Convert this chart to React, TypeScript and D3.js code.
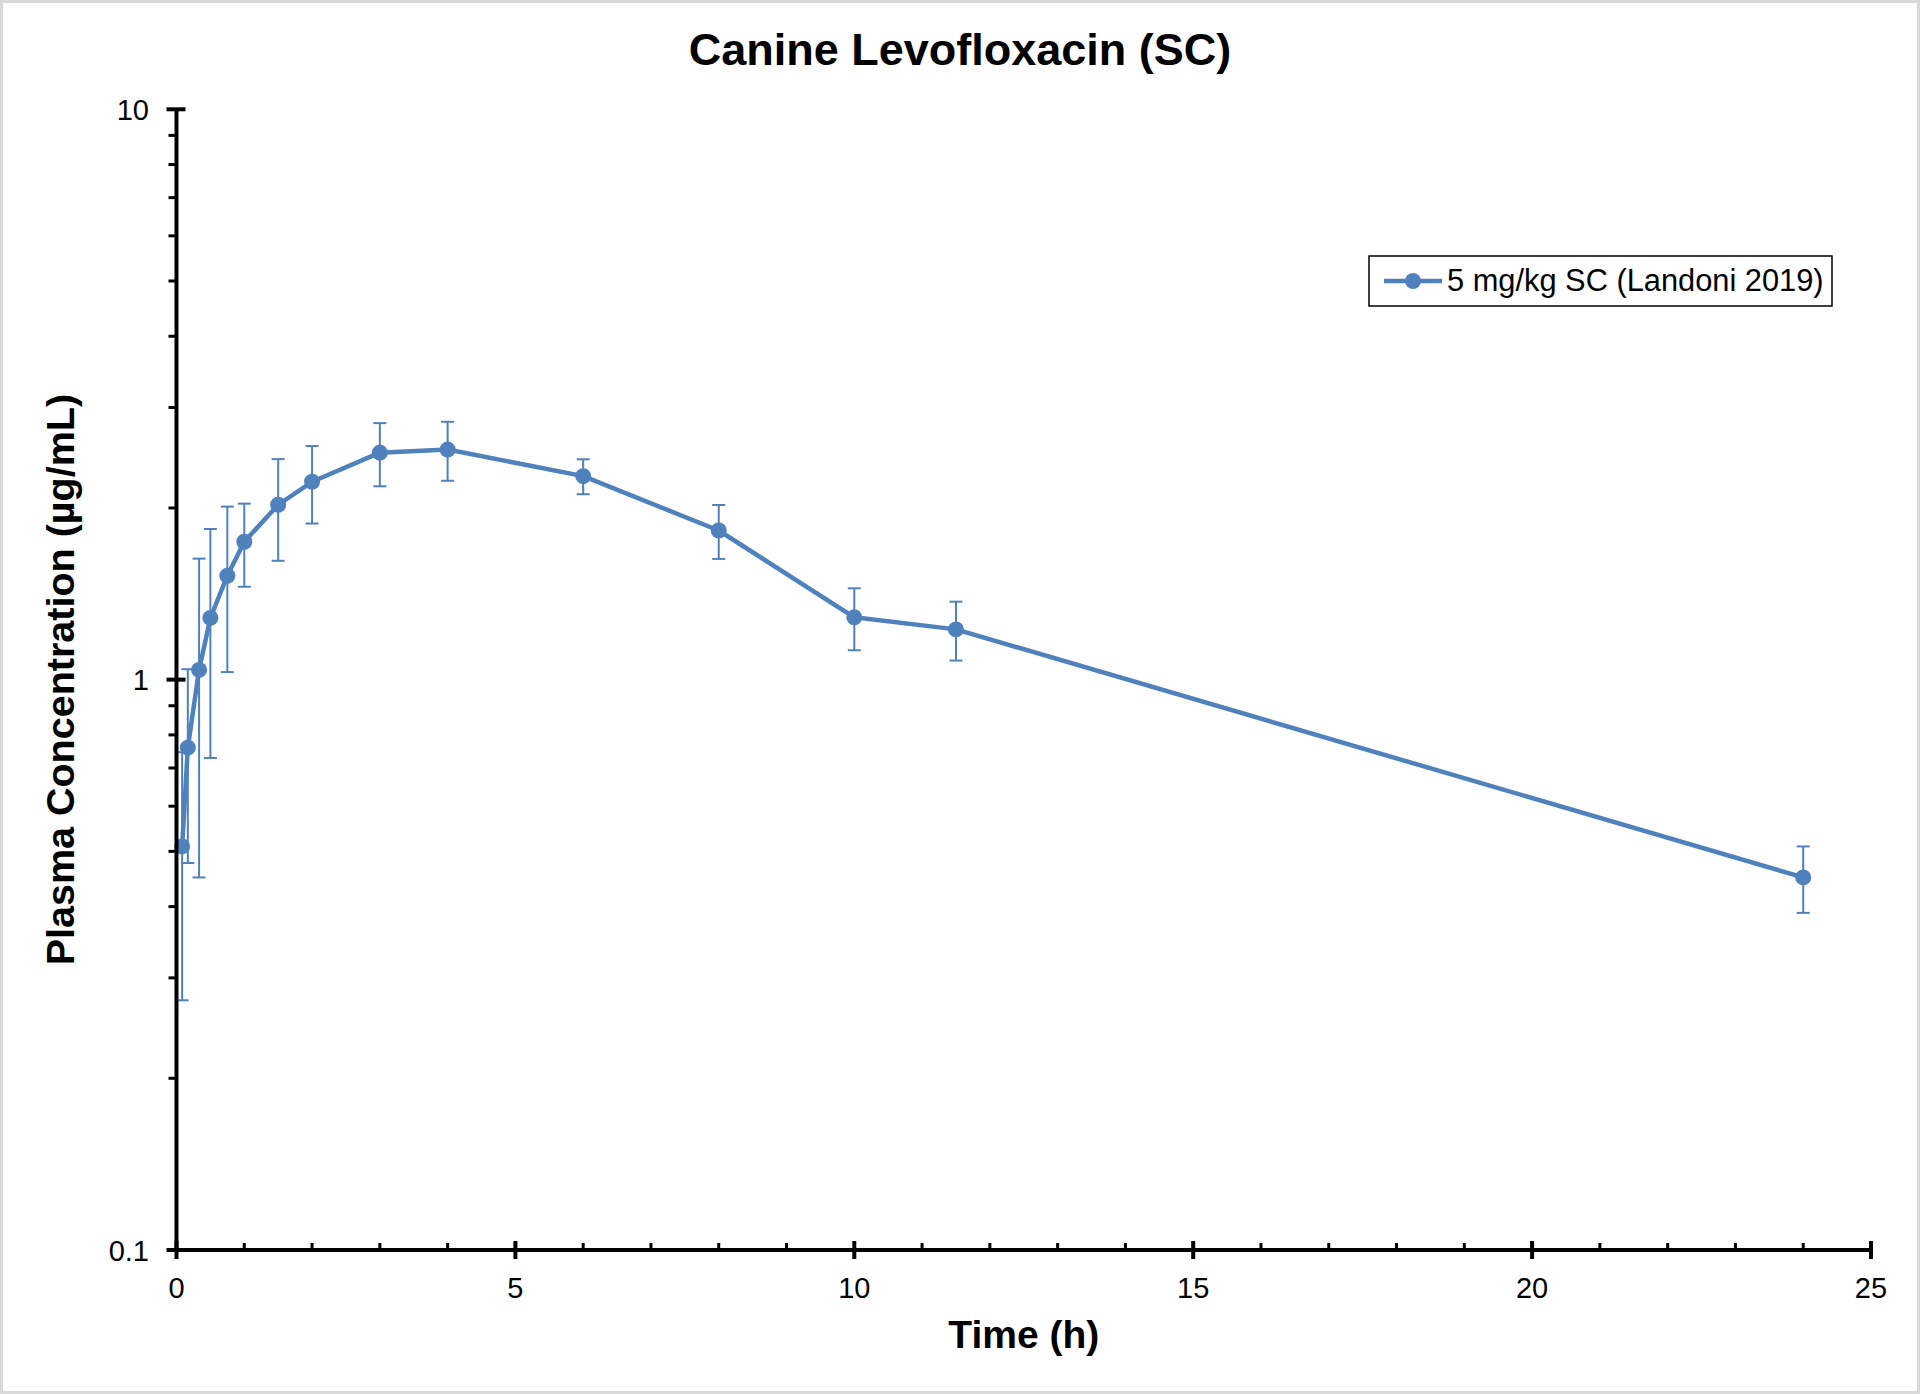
import React from "react";
import * as d3 from "d3";

const times = [0.083, 0.167, 0.333, 0.5, 0.75, 1, 1.5, 2, 3, 4, 6, 8, 10, 11.5, 24];
const means = [0.51, 0.76, 1.04, 1.283, 1.521, 1.745, 2.026, 2.223, 2.5, 2.532, 2.274, 1.826, 1.286, 1.225, 0.45];
const sds = [0.236, 0.283, 0.59, 0.554, 0.49, 0.29, 0.41, 0.345, 0.317, 0.3, 0.16, 0.198, 0.16, 0.145, 0.06];

const xMajorTicks = [0, 5, 10, 15, 20, 25];
const xMinorTicks = d3.range(1, 25).filter((v) => v % 5 !== 0);
const yMajorTicks = [0.1, 1, 10];
const yTickLabels = ["0.1", "1", "10"];
const yMinorTicks = [0.2, 0.3, 0.4, 0.5, 0.6, 0.7, 0.8, 0.9, 2, 3, 4, 5, 6, 7, 8, 9];

const title = "Canine Levofloxacin (SC)";
const xTitle = "Time (h)";
const yTitle = "Plasma Concentration (µg/mL)";
const seriesName = "5 mg/kg SC (Landoni 2019)";

const W = 1920;
const H = 1394;
const FONT = "'Liberation Sans', Arial, Helvetica, sans-serif";
const BLUE = "#4f81bd";

export default function App() {
  const x = d3.scaleLinear().domain([0, 25]).range([176.5, 1871]);
  const y = d3.scaleLog().domain([0.1, 10]).range([1250, 109.3]);
  const data = times.map((t, i) => ({ t, m: means[i], s: sds[i] }));
  const line = d3
    .line<{ t: number; m: number }>()
    .x((d) => x(d.t))
    .y((d) => y(d.m));

  const x0 = x(0);
  const yBase = y(0.1);
  const capW = 6.5;

  return (
    <svg
      width={W}
      height={H}
      style={{ position: "absolute", left: 0, top: 0, background: "#fff" }}
      fontFamily={FONT}
    >
      <rect x={0} y={0} width={W} height={H} fill="#fff" />
      <rect x={1.5} y={1.5} width={W - 3} height={H - 3} fill="none" stroke="#d9d9d9" strokeWidth={3} />

      <text x={960} y={65} textAnchor="middle" fontSize={45} fontWeight="bold" fill="#000">
        {title}
      </text>

      {/* error bars */}
      {data.map((d, i) => {
        const top = y(d.m + d.s);
        const bot = y(Math.max(d.m - d.s, 0.1));
        const cx = x(d.t);
        return (
          <g key={"e" + i} stroke={BLUE} strokeWidth={2}>
            <line x1={cx} x2={cx} y1={top} y2={bot} />
            <line x1={cx - capW} x2={cx + capW} y1={top} y2={top} />
            <line x1={cx - capW} x2={cx + capW} y1={bot} y2={bot} />
          </g>
        );
      })}

      <path d={line(data) || ""} fill="none" stroke={BLUE} strokeWidth={4.5} strokeLinejoin="round" />
      {data.map((d, i) => (
        <circle key={"c" + i} cx={x(d.t)} cy={y(d.m)} r={8} fill={BLUE} />
      ))}

      {/* y axis */}
      <line x1={x0} x2={x0} y1={y(10)} y2={yBase} stroke="#000" strokeWidth={4} />
      {yMajorTicks.map((v, i) => (
        <g key={"ym" + i}>
          <line x1={x0 - 10} x2={x0 + 9} y1={y(v)} y2={y(v)} stroke="#000" strokeWidth={4} />
          <text x={149} y={y(v) + 10.5} textAnchor="end" fontSize={29} fill="#000">
            {yTickLabels[i]}
          </text>
        </g>
      ))}
      {yMinorTicks.map((v, i) => (
        <line key={"yn" + i} x1={x0 - 8} x2={x0} y1={y(v)} y2={y(v)} stroke="#000" strokeWidth={3} />
      ))}

      {/* x axis */}
      <line x1={x0} x2={x(25)} y1={yBase} y2={yBase} stroke="#000" strokeWidth={4} />
      {xMajorTicks.map((v, i) => (
        <g key={"xm" + i}>
          <line x1={x(v)} x2={x(v)} y1={yBase - 9} y2={yBase + 9} stroke="#000" strokeWidth={4} />
          <text x={x(v)} y={1297.5} textAnchor="middle" fontSize={29} fill="#000">
            {String(v)}
          </text>
        </g>
      ))}
      {xMinorTicks.map((v, i) => (
        <line key={"xn" + i} x1={x(v)} x2={x(v)} y1={yBase - 7} y2={yBase} stroke="#000" strokeWidth={3} />
      ))}

      <text x={(x(0) + x(25)) / 2} y={1348} textAnchor="middle" fontSize={39} fontWeight="bold" fill="#000">
        {xTitle}
      </text>
      <text
        transform={`translate(74, ${(y(10) + yBase) / 2}) rotate(-90)`}
        textAnchor="middle"
        fontSize={39.5}
        fontWeight="bold"
        fill="#000"
      >
        {yTitle}
      </text>

      {/* legend */}
      <rect x={1369} y={256} width={463} height={50} fill="#fff" stroke="#000" strokeWidth={1.5} />
      <line x1={1384} x2={1442} y1={281} y2={281} stroke={BLUE} strokeWidth={4.5} />
      <circle cx={1413} cy={281} r={8} fill={BLUE} />
      <text x={1447} y={291} fontSize={30.8} fill="#000">
        {seriesName}
      </text>
    </svg>
  );
}
